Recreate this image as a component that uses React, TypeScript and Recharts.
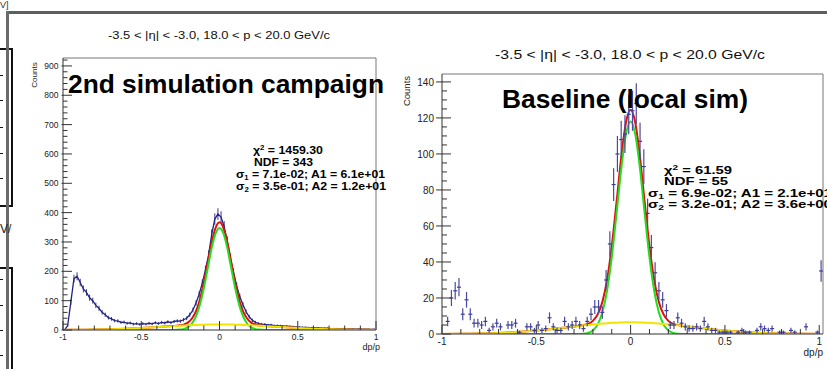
import React from 'react';
import { ComposedChart, Line, Scatter, XAxis, YAxis, ReferenceLine, ErrorBar } from 'recharts';

const FONT = '"Liberation Sans", Arial, Helvetica, sans-serif';

// ---------- data ----------
const binCenters = [
  -0.99, -0.97, -0.95, -0.93, -0.91, -0.89, -0.87, -0.85, -0.83, -0.81,
  -0.79, -0.77, -0.75, -0.73, -0.71, -0.69, -0.67, -0.65, -0.63, -0.61,
  -0.59, -0.57, -0.55, -0.53, -0.51, -0.49, -0.47, -0.45, -0.43, -0.41,
  -0.39, -0.37, -0.35, -0.33, -0.31, -0.29, -0.27, -0.25, -0.23, -0.21,
  -0.19, -0.17, -0.15, -0.13, -0.11, -0.09, -0.07, -0.05, -0.03, -0.01,
  0.01, 0.03, 0.05, 0.07, 0.09, 0.11, 0.13, 0.15, 0.17, 0.19,
  0.21, 0.23, 0.25, 0.27, 0.29, 0.31, 0.33, 0.35, 0.37, 0.39,
  0.41, 0.43, 0.45, 0.47, 0.49, 0.51, 0.53, 0.55, 0.57, 0.59,
  0.61, 0.63, 0.65, 0.67, 0.69, 0.71, 0.73, 0.75, 0.77, 0.79,
  0.81, 0.83, 0.85, 0.87, 0.89, 0.91, 0.93, 0.95, 0.97, 0.99,
  1.01,
];

// 2nd simulation campaign histogram (counts)
const leftCounts: (number | null)[] = [
  0, 15, 95, 175, 183, 162, 140, 128, 110, 100,
  84, 74, 60, 52, 42, 38, 32, 31, 26, 27,
  23, 24, 20, 22, 19, 22, 20, 23, 21, 25,
  22, 26, 24, 28, 25, 29, 31, 30, 35, 40,
  52, 68, 92, 122, 160, 205, 255, 325, 378, 395,
  385, 352, 302, 245, 196, 150, 113, 86, 62, 45,
  33, 26, 22, 20, 19, 17, 17, 15, 15, 14,
  13, 13, 12, 11, 10, 10, 9, 9, 8, 8,
  7, 7, 6, 6, 6, 5, 5, 5, 4, 5,
  4, 4, 4, 3, 4, 3, 3, 3, 2, 3,
  null,
];

// Baseline (local sim) histogram (counts)
const rightCounts: (number | null)[] = [
  null, 7, 20, 24, 26, 11, 19, 11, 6, 6,
  5, 7, 2, 4, 6, 4, null, 5, 5, 6,
  1, null, 4, 4, 2, 5, 2, 3, 9, 4,
  2, 2, 7, 4, 5, 7, 5, 3, 7, 11,
  15, 15, 12, 30, 50, 83, 100, 108, 111, 122,
  124, 128, 107, 93, 67, 48, 34, 24, 19, 13,
  5, 5, 9, 6, 4, 3, 3, 4, 3, 7,
  4, 2, 2, 1, 1, 1, 1, null, 1, 2,
  1, 1, null, 2, 4, 3, 2, 3, null, 1,
  1, null, 2, 1, null, null, 4, null, null, 1,
  35,
];

// fit curves sampled points
const fitX = [
  -1, -0.9, -0.8, -0.7, -0.6, -0.5, -0.4, -0.3,
  -0.25, -0.225, -0.2, -0.175, -0.15, -0.125, -0.1, -0.075, -0.05, -0.025,
  0,
  0.025, 0.05, 0.075, 0.1, 0.125, 0.15, 0.175, 0.2, 0.225, 0.25,
  0.3, 0.4, 0.5, 0.6, 0.7, 0.8, 0.9, 1,
];

const leftGreen = [
  0, 0, 0, 0, 0, 0, 0, 0,
  1.3, 3.9, 10, 23, 47, 87, 143, 211, 279, 329,
  348,
  329, 279, 211, 143, 87, 47, 23, 10, 3.9, 1.3,
  0, 0, 0, 0, 0, 0, 0, 0,
];
const leftYellow = [
  0.3, 0.7, 1.4, 2.6, 4.4, 6.8, 9.9, 13.2,
  14.7, 15.4, 16.1, 16.8, 17.3, 17.8, 18.2, 18.6, 18.8, 18.95,
  19,
  18.95, 18.8, 18.6, 18.2, 17.8, 17.3, 16.8, 16.1, 15.4, 14.7,
  13.2, 9.9, 6.8, 4.4, 2.6, 1.4, 0.7, 0.3,
];
const leftRed = [
  0.3, 0.7, 1.4, 2.6, 4.4, 6.8, 9.9, 13.3,
  16, 19.3, 26, 40, 64, 105, 161, 230, 298, 348,
  367,
  348, 298, 230, 161, 105, 64, 40, 26, 19.3, 16,
  13.3, 9.9, 6.8, 4.4, 2.6, 1.4, 0.7, 0.3,
];

const rightGreen = [
  0, 0, 0, 0, 0, 0, 0, 0,
  0.2, 0.6, 2.0, 5.2, 11.9, 24, 42.5, 66.5, 91.4, 110.7,
  118,
  110.7, 91.4, 66.5, 42.5, 24, 11.9, 5.2, 2.0, 0.6, 0.2,
  0, 0, 0, 0, 0, 0, 0, 0,
];
const rightYellow = [
  0.05, 0.13, 0.3, 0.6, 1.1, 1.9, 3.0, 4.2,
  4.8, 5.0, 5.3, 5.6, 5.8, 6.0, 6.2, 6.3, 6.4, 6.5,
  6.5,
  6.5, 6.4, 6.3, 6.2, 6.0, 5.8, 5.6, 5.3, 5.0, 4.8,
  4.2, 3.0, 1.9, 1.1, 0.6, 0.3, 0.13, 0.05,
];
const rightRed = [
  0.05, 0.13, 0.3, 0.6, 1.1, 1.9, 3.0, 4.2,
  5.0, 5.6, 7.3, 10.8, 17.7, 30, 48.7, 72.8, 97.8, 117.2,
  124.5,
  117.2, 97.8, 72.8, 48.7, 30, 17.7, 10.8, 7.3, 5.6, 5.0,
  4.2, 3.0, 1.9, 1.1, 0.6, 0.3, 0.13, 0.05,
];

// axis ticks
const xMajorTicks = [-1, -0.5, 0, 0.5, 1];
const xTickLabels = ['-1', '-0.5', '0', '0.5', '1'];
const xMinorTicks = [-0.9, -0.8, -0.7, -0.6, -0.4, -0.3, -0.2, -0.1, 0.1, 0.2, 0.3, 0.4, 0.6, 0.7, 0.8, 0.9];
const leftYMajor = [0, 100, 200, 300, 400, 500, 600, 700, 800, 900];
const leftYLabels = ['0', '100', '200', '300', '400', '500', '600', '700', '800', '900'];
const rightYMajor = [0, 20, 40, 60, 80, 100, 120, 140];
const rightYLabels = ['0', '20', '40', '60', '80', '100', '120', '140'];

const leftYMinor = Array.from({ length: 46 }, (_, i) => (i + 1) * 20).filter((v) => v % 100 !== 0);
const rightYMinor = Array.from({ length: 28 }, (_, i) => (i + 1) * 5).filter((v) => v % 20 !== 0);

const title = '-3.5 < |\u03b7| < -3.0, 18.0 < p < 20.0 GeV/c';

// ---------- tables ----------
const buildHist = (counts: (number | null)[]) =>
  binCenters
    .map((x, i) => ({ x, v: counts[i] }))
    .filter((d) => d.v !== null && d.v !== undefined)
    .map((d) => ({ x: d.x, v: d.v as number, e: Math.sqrt(d.v as number) }));

const buildCurve = (ys: number[]) => fitX.map((x, i) => ({ x, v: ys[i] }));

const leftHist = buildHist(leftCounts);
const rightHist = buildHist(rightCounts);

const AX = '#333';

const makeYTick = (majors: number[], labels: string[], majIn: number, majOut: number, minIn: number, gap: number, fs: number) =>
  (props: any) => {
    const { x, y, payload } = props;
    const idx = majors.findIndex((m) => Math.abs(m - payload.value) < 1e-6);
    if (idx < 0) return <line x1={x} x2={x + minIn} y1={y} y2={y} stroke={AX} strokeWidth={1} />;
    return (
      <g>
        <line x1={x - majOut} x2={x + majIn} y1={y} y2={y} stroke={AX} strokeWidth={1} />
        <text x={x - majOut - gap} y={y} dy="0.36em" textAnchor="end" fontSize={fs} fontFamily={FONT} fill="#222">
          {labels[idx]}
        </text>
      </g>
    );
  };

const makeXTick = (majLen: number, minLen: number, labelDy: number, fs: number) => (props: any) => {
  const { x, y, payload } = props;
  const idx = xMajorTicks.findIndex((m) => Math.abs(m - payload.value) < 1e-6);
  if (idx < 0) return <line x1={x} x2={x} y1={y} y2={y - minLen} stroke={AX} strokeWidth={1} />;
  return (
    <g>
      <line x1={x} x2={x} y1={y} y2={y - majLen} stroke={AX} strokeWidth={1} />
      <text x={x} y={y + labelDy} textAnchor="middle" fontSize={fs} fontFamily={FONT} fill="#222">
        {xTickLabels[idx]}
      </text>
    </g>
  );
};

const crossShape = (props: any) => {
  const { cx, cy } = props;
  return <line x1={cx - 2} x2={cx + 2} y1={cy} y2={cy} stroke="#3c3c98" strokeWidth={1.2} />;
};

const HIST = '#23237e';
const RED = '#e01010';
const GREEN = '#22dd22';
const YELLOW = '#f0e400';

export default function App() {
  const xTicks = [...xMajorTicks, ...xMinorTicks];
  return (
    <div style={{ position: 'absolute', left: 0, top: 0, width: 827, height: 369, background: '#fff', overflow: 'hidden' }}>
      {/* slide decorations */}
      <div style={{ position: 'absolute', left: -2, top: 48, width: 11, height: 155, border: '2px solid #111' }} />
      <div style={{ position: 'absolute', left: -2, top: 267, width: 11, height: 120, border: '2px solid #111' }} />
      {[75, 100, 127, 153, 178, 279, 305, 330, 355].map((t) => (
        <div key={t} style={{ position: 'absolute', left: 0, top: t, width: 3, height: 1, background: '#111' }} />
      ))}
      <div style={{ position: 'absolute', left: 8, top: 11, width: 819, height: 3, background: '#5e5e5e' }} />
      <div style={{ position: 'absolute', left: 6, top: 11, width: 3, height: 358, background: '#6a6a6a' }} />

      {/* left chart */}
      <div style={{ position: 'absolute', left: 0, top: 0 }}>
        <ComposedChart width={400} height={369} margin={{ top: 58, right: 24, bottom: 9, left: 23 }}>
          <XAxis
            dataKey="x"
            type="number"
            domain={[-1, 1]}
            allowDataOverflow
            ticks={xTicks}
            interval={0}
            tickSize={0}
            tickMargin={0}
            height={30}
            stroke={AX}
            tick={makeXTick(9, 4.5, 10, 8.5)}
          />
          <YAxis
            type="number"
            domain={[0, 927]}
            allowDataOverflow
            ticks={[...leftYMajor, ...leftYMinor]}
            interval={0}
            tickSize={0}
            tickMargin={0}
            width={40}
            stroke={AX}
            tick={makeYTick(leftYMajor, leftYLabels, 9, 1.5, 4.5, 3, 8.5)}
          />
          <ReferenceLine y={927} stroke="#777" strokeWidth={1} ifOverflow="extendDomain" />
          <ReferenceLine x={1} stroke="#777" strokeWidth={1} ifOverflow="extendDomain" />
          <Line data={leftHist} dataKey="v" type="linear" stroke={HIST} strokeWidth={1.3} dot={false} isAnimationActive={false}>
            <ErrorBar dataKey="e" width={0} stroke="#3a3a92" strokeWidth={1} direction="y" />
          </Line>
          <Line data={buildCurve(leftRed)} dataKey="v" type="monotone" stroke={RED} strokeWidth={2} dot={false} isAnimationActive={false} />
          <Line data={buildCurve(leftGreen)} dataKey="v" type="monotone" stroke={GREEN} strokeWidth={2} dot={false} isAnimationActive={false} />
          <Line data={buildCurve(leftYellow)} dataKey="v" type="monotone" stroke={YELLOW} strokeWidth={2} dot={false} isAnimationActive={false} />
        </ComposedChart>
      </div>

      {/* right chart */}
      <div style={{ position: 'absolute', left: 400, top: 0 }}>
        <ComposedChart width={427} height={369} margin={{ top: 74, right: 4, bottom: 5, left: 12 }}>
          <XAxis
            dataKey="x"
            type="number"
            domain={[-1, 1.02]}
            allowDataOverflow
            ticks={xTicks}
            interval={0}
            tickSize={0}
            tickMargin={0}
            height={30}
            stroke={AX}
            tick={makeXTick(9, 5, 11, 10)}
          />
          <YAxis
            type="number"
            domain={[0, 144.4]}
            allowDataOverflow
            ticks={[...rightYMajor, ...rightYMinor]}
            interval={0}
            tickSize={0}
            tickMargin={0}
            width={30}
            stroke={AX}
            tick={makeYTick(rightYMajor, rightYLabels, 9, 6, 5, 2, 10)}
          />
          <ReferenceLine y={144.4} stroke="#777" strokeWidth={1} ifOverflow="extendDomain" />
          <ReferenceLine x={1.02} stroke="#777" strokeWidth={1} ifOverflow="extendDomain" />
          <Line data={buildCurve(rightRed)} dataKey="v" type="monotone" stroke={RED} strokeWidth={2} dot={false} isAnimationActive={false} />
          <Line data={buildCurve(rightGreen)} dataKey="v" type="monotone" stroke={GREEN} strokeWidth={2} dot={false} isAnimationActive={false} />
          <Line data={buildCurve(rightYellow)} dataKey="v" type="monotone" stroke={YELLOW} strokeWidth={2} dot={false} isAnimationActive={false} />
          <Scatter data={rightHist} dataKey="v" fill="#3c3c98" shape={crossShape} isAnimationActive={false}>
            <ErrorBar dataKey="e" width={0} stroke="#4a4aa0" strokeWidth={1.2} direction="y" />
          </Scatter>
        </ComposedChart>
      </div>

      {/* text overlay */}
      <svg width={827} height={369} style={{ position: 'absolute', left: 0, top: 0, pointerEvents: 'none' }} fontFamily={FONT}>
        <text x={0} y={8} fontSize={9} fill="#333">V]</text>
        <text x={0} y={233} fontSize={12} fill="#222">V/</text>

        {/* left panel texts */}
        <text x={108} y={39} fontSize={11} fill="#111" textLength={222} lengthAdjust="spacingAndGlyphs">{title}</text>
        <text x={37} y={75} fontSize={8} fill="#222" textAnchor="middle" transform="rotate(-90 37 75)">Counts</text>
        <text x={68} y={93} fontSize={25.5} fontWeight="bold" fill="#000" textLength={316} lengthAdjust="spacingAndGlyphs">2nd simulation campaign</text>
        <text x={253} y={154} fontSize={11} fontWeight="bold" fill="#000" textLength={70} lengthAdjust="spacingAndGlyphs">
          χ<tspan dy={-4} fontSize={7}>2</tspan><tspan dy={4}> = 1459.30</tspan>
        </text>
        <text x={254} y={166} fontSize={11} fontWeight="bold" fill="#000" textLength={59} lengthAdjust="spacingAndGlyphs">NDF = 343</text>
        <text x={236} y={178} fontSize={11} fontWeight="bold" fill="#000" textLength={149} lengthAdjust="spacingAndGlyphs">
          σ<tspan dy={2} fontSize={7}>1</tspan><tspan dy={-2}> = 7.1e-02; A1 = 6.1e+01</tspan>
        </text>
        <text x={236} y={190} fontSize={11} fontWeight="bold" fill="#000" textLength={150} lengthAdjust="spacingAndGlyphs">
          σ<tspan dy={2} fontSize={7}>2</tspan><tspan dy={-2}> = 3.5e-01; A2 = 1.2e+01</tspan>
        </text>
        <text x={380} y={350} fontSize={9} fill="#222" textAnchor="end">dp/p</text>

        {/* right panel texts */}
        <text x={495} y={59} fontSize={12.5} fill="#111" textLength={270} lengthAdjust="spacingAndGlyphs">{title}</text>
        <text x={410} y={91} fontSize={9.5} fill="#222" textAnchor="middle" transform="rotate(-90 410 91)">Counts</text>
        <text x={502} y={108} fontSize={25} fontWeight="bold" fill="#000" textLength={246} lengthAdjust="spacingAndGlyphs">Baseline (local sim)</text>
        <text x={664} y={174} fontSize={11} fontWeight="bold" fill="#000" textLength={68} lengthAdjust="spacingAndGlyphs">
          χ<tspan dy={-4} fontSize={7.5}>2</tspan><tspan dy={4}> = 61.59</tspan>
        </text>
        <text x={664} y={185} fontSize={11} fontWeight="bold" fill="#000" textLength={64} lengthAdjust="spacingAndGlyphs">NDF = 55</text>
        <text x={648} y={197} fontSize={11} fontWeight="bold" fill="#000" textLength={184} lengthAdjust="spacingAndGlyphs">
          σ<tspan dy={2} fontSize={7.5}>1</tspan><tspan dy={-2}> = 6.9e-02; A1 = 2.1e+01</tspan>
        </text>
        <text x={648} y={208} fontSize={11} fontWeight="bold" fill="#000" textLength={184} lengthAdjust="spacingAndGlyphs">
          σ<tspan dy={2} fontSize={7.5}>2</tspan><tspan dy={-2}> = 3.2e-01; A2 = 3.6e+00</tspan>
        </text>
        <text x={823} y={356} fontSize={10} fill="#222" textAnchor="end">dp/p</text>
      </svg>
    </div>
  );
}
